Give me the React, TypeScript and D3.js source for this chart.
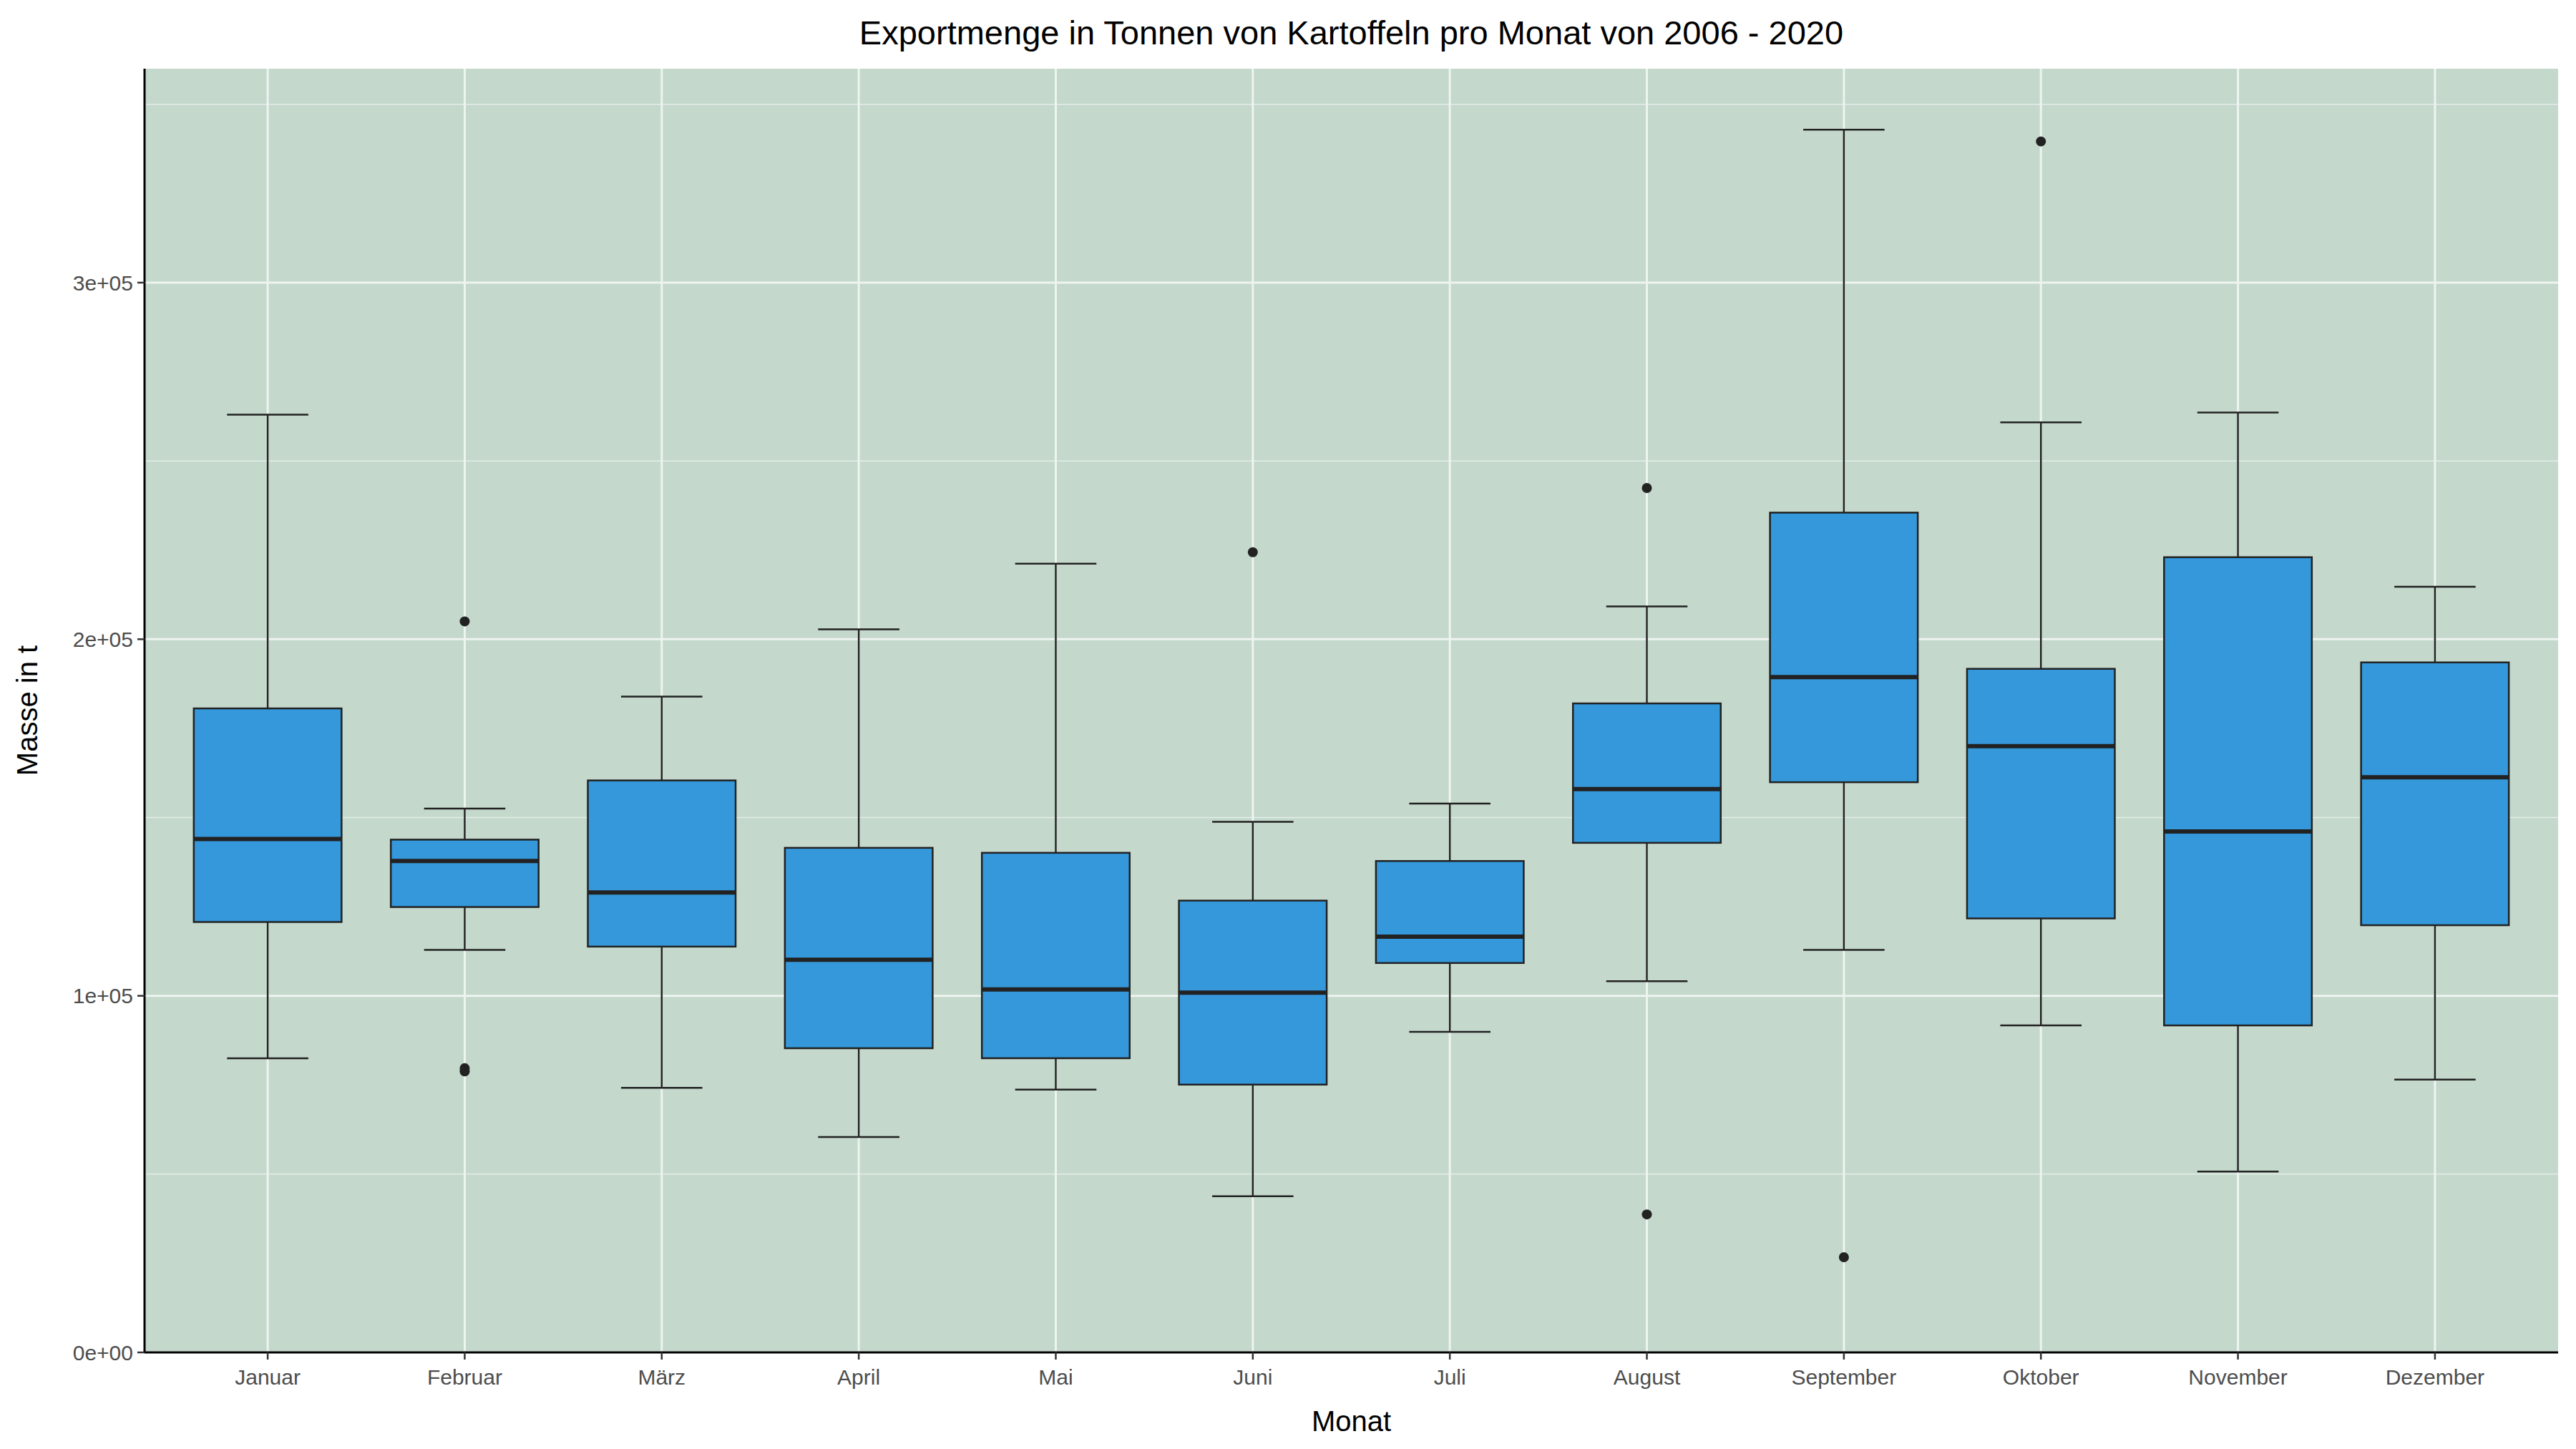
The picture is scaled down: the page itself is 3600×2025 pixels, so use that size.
import React from "react";
import * as d3 from "d3";

const months = ["Januar", "Februar", "März", "April", "Mai", "Juni", "Juli", "August", "September", "Oktober", "November", "Dezember"];
const lower = [82500, 112900, 74200, 60400, 73700, 43800, 89900, 104100, 112900, 91700, 50700, 76500];
const q1 = [120700, 124900, 113800, 85300, 82500, 75100, 109200, 142900, 159900, 121700, 91700, 119800];
const median = [144000, 137800, 129000, 110100, 101800, 100900, 116600, 158000, 189400, 170000, 146100, 161300];
const q3 = [180600, 143800, 160400, 141500, 140100, 126700, 137800, 182000, 235500, 191700, 223000, 193500];
const upper = [263000, 152500, 183900, 202800, 221200, 148800, 153900, 209200, 342900, 260800, 263600, 214700];
const outliers: [number, number][] = [
  [1, 205000], [1, 79700], [1, 78800], [5, 224400], [7, 242400], [7, 38700], [8, 26700], [9, 339600],
];
const yTicks = [0, 100000, 200000, 300000];
const tickLabels = ["0e+00", "1e+05", "2e+05", "3e+05"];

export default function App() {
  const W = 3600, H = 2025;
  const m = { left: 202, right: 25, top: 96, bottom: 135 };
  const x = d3.scaleBand().domain(months).range([m.left, W - m.right]).padding(0.25);
  const y = d3.scaleLinear().domain([0, 360000]).range([H - m.bottom, m.top]);
  const font = "Liberation Sans, Arial, sans-serif";
  const bw = x.bandwidth();
  const cx = (i: number) => x(months[i])! + bw / 2;
  const minor = d3.range(50000, 360000, 100000);
  return (
    <svg width={W} height={H} style={{ display: "block", position: "absolute", left: 0, top: 0 }} fontFamily={font}>
      <rect width={W} height={H} fill="white" />
      <rect x={m.left} y={m.top} width={W - m.left - m.right} height={H - m.top - m.bottom} fill="#C4D8CC" />
      {minor.map((v) => (
        <line key={"mi" + v} x1={m.left} x2={W - m.right} y1={y(v)} y2={y(v)} stroke="#E4EEE8" strokeWidth={1.5} />
      ))}
      {yTicks.map((v) => (
        <line key={"ma" + v} x1={m.left} x2={W - m.right} y1={y(v)} y2={y(v)} stroke="#EEF4F0" strokeWidth={3} />
      ))}
      {months.map((mo, i) => (
        <line key={"v" + mo} x1={cx(i)} x2={cx(i)} y1={m.top} y2={H - m.bottom} stroke="#EEF4F0" strokeWidth={3} />
      ))}
      {months.map((mo, i) => (
        <g key={mo}>
          <line x1={cx(i)} x2={cx(i)} y1={y(upper[i])} y2={y(lower[i])} stroke="#222" strokeWidth={2.5} />
          <line x1={cx(i) - bw * 0.275} x2={cx(i) + bw * 0.275} y1={y(upper[i])} y2={y(upper[i])} stroke="#222" strokeWidth={2.5} />
          <line x1={cx(i) - bw * 0.275} x2={cx(i) + bw * 0.275} y1={y(lower[i])} y2={y(lower[i])} stroke="#222" strokeWidth={2.5} />
          <rect x={x(mo)} y={y(q3[i])} width={bw} height={y(q1[i]) - y(q3[i])} fill="#3498DB" stroke="#222" strokeWidth={2.5} />
          <line x1={x(mo)} x2={x(mo)! + bw} y1={y(median[i])} y2={y(median[i])} stroke="#222" strokeWidth={6} />
        </g>
      ))}
      {outliers.map(([i, v], k) => (
        <circle key={k} cx={cx(i)} cy={y(v)} r={7} fill="#222" />
      ))}
      <line x1={m.left} x2={m.left} y1={m.top} y2={H - m.bottom} stroke="black" strokeWidth={3} />
      <line x1={m.left} x2={W - m.right} y1={H - m.bottom} y2={H - m.bottom} stroke="black" strokeWidth={3} />
      {yTicks.map((v, k) => (
        <g key={"t" + v}>
          <line x1={m.left - 10} x2={m.left} y1={y(v)} y2={y(v)} stroke="#333" strokeWidth={2.5} />
          <text x={m.left - 16} y={y(v)} dy="0.35em" textAnchor="end" fontSize={30} fill="#4d4d4d">{tickLabels[k]}</text>
        </g>
      ))}
      {months.map((mo, i) => (
        <g key={"xt" + mo}>
          <line x1={cx(i)} x2={cx(i)} y1={H - m.bottom} y2={H - m.bottom + 10} stroke="#333" strokeWidth={2.5} />
          <text x={cx(i)} y={H - m.bottom + 45} textAnchor="middle" fontSize={30} fill="#4d4d4d">{mo}</text>
        </g>
      ))}
      <text x={(m.left + W - m.right) / 2} y={H - 25} textAnchor="middle" fontSize={40}>Monat</text>
      <text transform={`translate(52,${(m.top + H - m.bottom) / 2}) rotate(-90)`} textAnchor="middle" fontSize={40}>Masse in t</text>
      <text x={(m.left + W - m.right) / 2} y={62} textAnchor="middle" fontSize={47}>Exportmenge in Tonnen von Kartoffeln pro Monat von 2006 - 2020</text>
    </svg>
  );
}
